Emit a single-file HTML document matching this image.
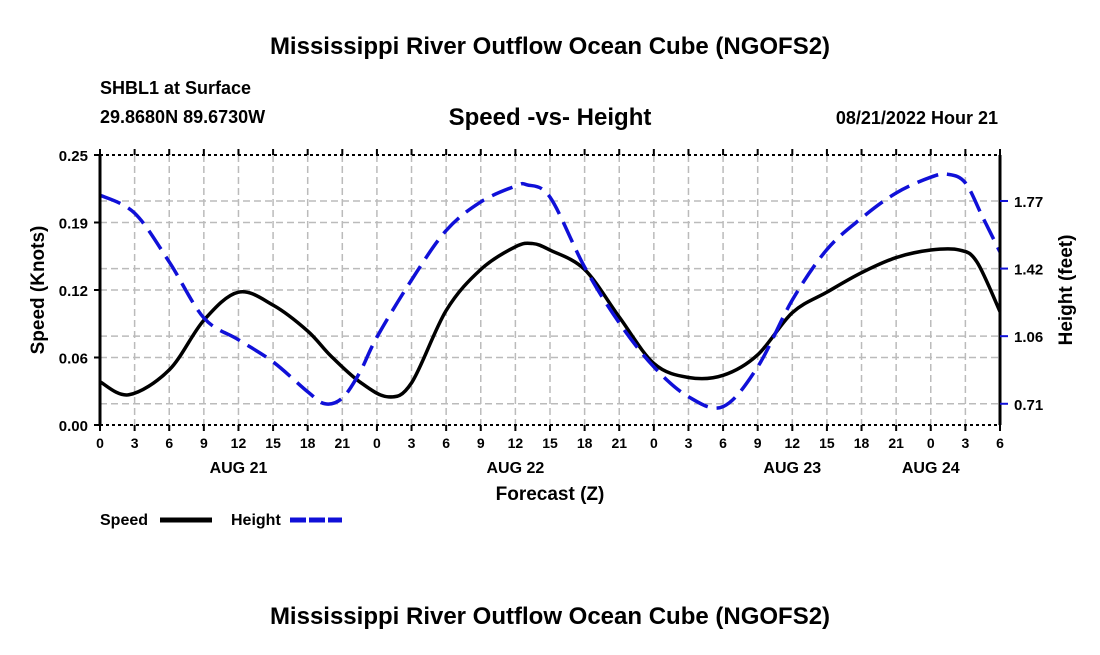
<!DOCTYPE html>
<html><head><meta charset="utf-8"><style>
body{margin:0;background:#fff;}
svg text{font-family:"Liberation Sans",Arial,sans-serif;font-weight:bold;fill:#000;}
</style></head><body>
<svg width="1100" height="650" viewBox="0 0 1100 650">
<text x="550" y="54" text-anchor="middle" font-size="24">Mississippi River Outflow Ocean Cube (NGOFS2)</text>
<text x="100" y="94" font-size="18">SHBL1 at Surface</text>
<text x="100" y="123" font-size="18">29.8680N  89.6730W</text>
<text x="550" y="125" text-anchor="middle" font-size="24">Speed -vs- Height</text>
<text x="998" y="124" text-anchor="end" font-size="18">08/21/2022 Hour 21</text>
<g id="grid"></g>
<g id="marks"></g>
<g id="axes"></g>
<text transform="translate(44,290) rotate(-90)" text-anchor="middle" font-size="19">Speed (Knots)</text>
<text transform="translate(1072,290) rotate(-90)" text-anchor="middle" font-size="19">Height (feet)</text>
<text x="550" y="500" text-anchor="middle" font-size="19">Forecast (Z)</text>
<g>
<text x="100" y="525" font-size="16">Speed</text>
<line x1="160" y1="520" x2="212" y2="520" stroke="#000" stroke-width="5"/>
<text x="231" y="525" font-size="16">Height</text>
<line x1="290" y1="520" x2="342" y2="520" stroke="#1010d8" stroke-width="5" stroke-dasharray="16,3"/>
</g>
<text x="550" y="624" text-anchor="middle" font-size="24">Mississippi River Outflow Ocean Cube (NGOFS2)</text>
</svg>
<script>
const speedHours=[0,2.5,6,9,12,15,18,20,22.5,25,27,30,33,36,37.5,39,42,45,48,51,54,57,60,63,66,69,72,74.5,76,78];
const speedValues=[0.040,0.028,0.051,0.097,0.123,0.111,0.087,0.064,0.040,0.026,0.039,0.106,0.144,0.165,0.168,0.162,0.144,0.100,0.057,0.044,0.046,0.065,0.104,0.123,0.141,0.155,0.162,0.162,0.151,0.105];
const heightHours=[0,3,6,9,12,15,18,19.5,21,22.5,24,27,30,33,36,37,39,42,45,48,51,54,57,60,63,66,69,72,73.5,75,76.5,78];
const heightValues=[1.806,1.711,1.455,1.161,1.046,0.93,0.773,0.71,0.74,0.873,1.06,1.36,1.62,1.77,1.853,1.86,1.795,1.428,1.135,0.904,0.747,0.695,0.904,1.255,1.52,1.685,1.817,1.90,1.915,1.87,1.69,1.507];
const speedTicks=[0,0.0625,0.125,0.1875,0.25];
const speedTickLabels=["0.00","0.06","0.12","0.19","0.25"];
const heightTicks=[0.71,1.065,1.42,1.775];
const heightTickLabels=["0.71","1.06","1.42","1.77"];
const xTickHours=[0,3,6,9,12,15,18,21,24,27,30,33,36,39,42,45,48,51,54,57,60,63,66,69,72,75,78];
const dayLabels=["AUG 21","AUG 22","AUG 23","AUG 24"];
const dayLabelHours=[12,36,60,72];
const L=100,R=1000,T=155,B=425,XMAX=78,SMAX=0.25,HMIN=0.5985,HMAX=2.0165;
const NS='http://www.w3.org/2000/svg';
const xS=h=>L+h/XMAX*(R-L);
const yS=v=>B-v/SMAX*(B-T);
const yH=v=>B-(v-HMIN)/(HMAX-HMIN)*(B-T);
function mk(tag,attrs,parent,txt){const e=document.createElementNS(NS,tag);for(const k in attrs)e.setAttribute(k,attrs[k]);if(txt!==undefined)e.textContent=txt;parent.appendChild(e);return e;}
const grid=document.getElementById('grid'),marks=document.getElementById('marks'),axes=document.getElementById('axes');
const gs={stroke:'#bbb','stroke-width':1.5,'stroke-dasharray':'7,4'};
xTickHours.forEach((h,i)=>{if(h===0||h===78)return;const l=mk('line',Object.assign({x1:xS(h),x2:xS(h),y1:T,y2:B},gs),grid);

});
speedTicks.forEach(v=>{if(v===0||v===SMAX)return;const l=mk('line',Object.assign({x1:L,x2:R,y1:yS(v),y2:yS(v)},gs),grid);

});
heightTicks.forEach(v=>{const l=mk('line',Object.assign({x1:L,x2:R,y1:yH(v),y2:yH(v)},gs),grid);

});
function path(xs,ys,fy){const p=xs.map((h,i)=>[xS(h),fy(ys[i])]);let d='M'+p[0][0]+','+p[0][1];
for(let i=0;i<p.length-1;i++){const p0=p[i-1]||p[i],p1=p[i],p2=p[i+1],p3=p[i+2]||p2;
d+=' C'+(p1[0]+(p2[0]-p0[0])/6)+','+(p1[1]+(p2[1]-p0[1])/6)+' '+(p2[0]-(p3[0]-p1[0])/6)+','+(p2[1]-(p3[1]-p1[1])/6)+' '+p2[0]+','+p2[1];}return d;}
const sp=mk('path',{d:path(speedHours,speedValues,yS),fill:'none',stroke:'#000','stroke-width':3.5},marks);


const hp=mk('path',{d:path(heightHours,heightValues,yH),fill:'none',stroke:'#1010d8','stroke-width':3.5,'stroke-dasharray':'22,9'},marks);


mk('line',{x1:L,x2:L,y1:T,y2:B,stroke:'#000','stroke-width':3},axes);
mk('line',{x1:R,x2:R,y1:T,y2:B,stroke:'#000','stroke-width':3},axes);
mk('line',{x1:L,x2:R,y1:T,y2:T,stroke:'#000','stroke-width':2,'stroke-dasharray':'3,3'},axes);
mk('line',{x1:L,x2:R,y1:B,y2:B,stroke:'#000','stroke-width':2,'stroke-dasharray':'3,3'},axes);
speedTicks.forEach((v,i)=>{mk('line',{x1:L-6,x2:L,y1:yS(v),y2:yS(v),stroke:'#000','stroke-width':2},axes);
const t=mk('text',{x:L-12,y:yS(v)+6,'text-anchor':'end','font-size':15},axes,speedTickLabels[i]);

});
heightTicks.forEach((v,i)=>{mk('line',{x1:R,x2:R+8,y1:yH(v),y2:yH(v),stroke:'#1010d8','stroke-width':2},axes);
const t=mk('text',{x:R+14,y:yH(v)+6,'font-size':15},axes,heightTickLabels[i]);

});
xTickHours.forEach(h=>{mk('line',{x1:xS(h),x2:xS(h),y1:B,y2:B+6,stroke:'#000','stroke-width':2},axes);
mk('line',{x1:xS(h),x2:xS(h),y1:T-6,y2:T,stroke:'#000','stroke-width':2},axes);
const t=mk('text',{x:xS(h),y:B+23,'text-anchor':'middle','font-size':14},axes,String(h%24));

});
dayLabels.forEach((s,i)=>{const t=mk('text',{x:xS(dayLabelHours[i]),y:473,'text-anchor':'middle','font-size':16},axes,s);

});
</script>
</body></html>
